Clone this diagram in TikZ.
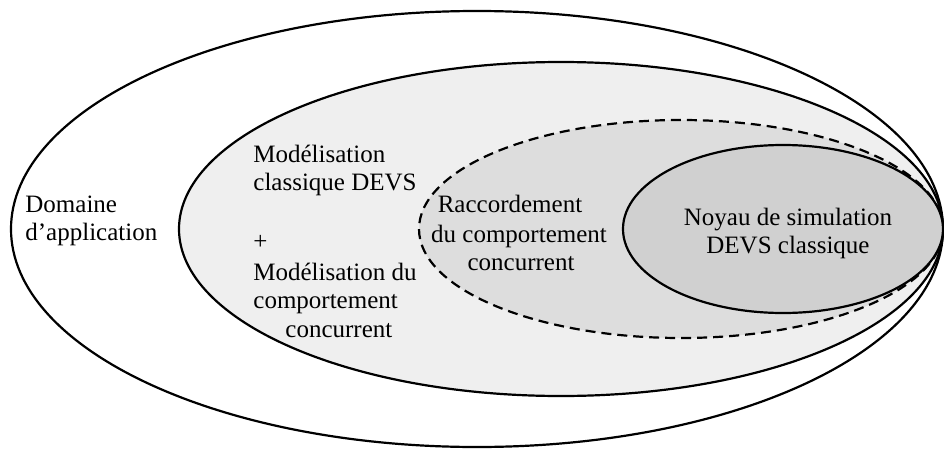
\documentclass[tikz,border=0pt]{standalone}
\usepackage{fontspec}
\setmainfont{Liberation Serif}
\usepackage{tikz}

\definecolor{fondA}{RGB}{239,239,239}
\definecolor{fondB}{RGB}{221,221,221}
\definecolor{fondC}{RGB}{208,208,208}

\tikzset{
  zone/.style={draw=black, line width=1.1pt},
  tiret/.style={zone, dash pattern=on 5pt off 3pt},
  texte/.style={font=\fontsize{12.5}{14}\selectfont, inner sep=0pt}
}

\begin{document}
\begin{tikzpicture}[x=0.5pt,y=-0.5pt]
\useasboundingbox (0,0) rectangle (944,450);

\draw[zone, fill=white] (477,229) ellipse [x radius=233pt, y radius=109pt];
\draw[zone, fill=fondA] (561,229) ellipse [x radius=191pt, y radius=83.5pt];
\draw[tiret, fill=fondB] (681,229) ellipse [x radius=131pt, y radius=54.5pt];
\draw[zone, fill=fondC] (783,229) ellipse [x radius=80pt, y radius=42pt];

\node[texte, anchor=base west] (dom1) at (25,212) {Domaine};
\node[texte, anchor=base west] (dom2) at (25,240) {d'application};

\node[texte, anchor=base west] (mod1) at (253,162) {Modélisation};
\node[texte, anchor=base west] (mod2) at (253,190) {classique DEVS};
\node[texte, anchor=base west] (plus) at (253,249) {+};
\node[texte, anchor=base west] (mod3) at (253,280) {Modélisation du};
\node[texte, anchor=base west] (mod4) at (253,308) {comportement};
\node[texte, anchor=base west] (mod5) at (285,337) {concurrent};

\node[texte, anchor=base] (rac1) at (510,212) {Raccordement};
\node[texte, anchor=base] (rac2) at (519,242) {du comportement};
\node[texte, anchor=base] (rac3) at (521,270) {concurrent};

\node[texte, anchor=base] (noy1) at (788,225) {Noyau de simulation};
\node[texte, anchor=base] (noy2) at (788,253) {DEVS classique};
\end{tikzpicture}
\end{document}
